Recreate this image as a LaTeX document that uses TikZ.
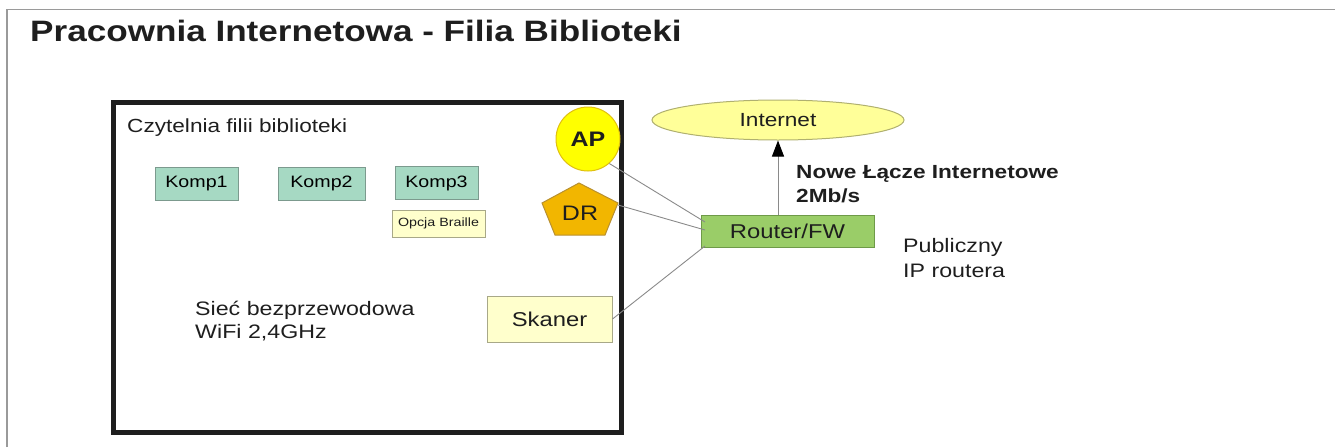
\documentclass[tikz,border=0pt]{standalone}
\usepackage{fontspec}
\setmainfont{Liberation Sans}[FakeStretch=1.19]
\usetikzlibrary{arrows.meta,shapes.geometric}
\definecolor{txt}{HTML}{1E1E1E}
\definecolor{frame}{HTML}{9A9A9A}
\definecolor{kompfill}{HTML}{A6D9C3}
\definecolor{kompline}{HTML}{7C9A8E}
\definecolor{paleyel}{HTML}{FFFFCC}
\definecolor{palelin}{HTML}{A8A888}
\definecolor{apfill}{HTML}{FFFF00}
\definecolor{apline}{HTML}{E0C010}
\definecolor{drfill}{HTML}{F2B600}
\definecolor{drline}{HTML}{B89030}
\definecolor{inetfill}{HTML}{FFFF99}
\definecolor{inetline}{HTML}{B0B070}
\definecolor{rfill}{HTML}{9ACD68}
\definecolor{rline}{HTML}{6E9A48}
\definecolor{conn}{HTML}{8A8A8A}
\tikzset{
  fs/.style={font=\fontsize{#1}{#1}\selectfont},
  kompbox/.style={draw=kompline, fill=kompfill, line width=1pt, minimum height=33, inner sep=0pt, text=black, font=\fontsize{16.5}{16.5}\selectfont},
  yelbox/.style={draw=palelin, fill=paleyel, line width=1pt, inner sep=0pt, text=txt},
  conline/.style={draw=conn, line width=0.9pt},
  plain/.style={text=txt, inner sep=0pt, anchor=base west, align=left},
}
\begin{document}
\begin{tikzpicture}[x=1pt,y=-1pt]
\useasboundingbox (0,0) rectangle (1335,447);
% outer frame
\draw[frame, line width=1.6pt] (7,447) -- (7,9.5) -- (1335,9.5);
% title
\node[plain, font=\bfseries\fontsize{29.5}{29.5}\selectfont] (title) at (30,41.5) {Pracownia Internetowa - Filia Biblioteki};
% reading room
\draw[line width=5pt, draw=txt] (113,102) rectangle (621,432);
\node[plain, fs=19] (room) at (127,132) {Czytelnia filii biblioteki};
\node[kompbox, minimum width=83] (k1) at (196.5,183.5) {Komp1};
\node[kompbox, minimum width=87] (k2) at (321.5,183.5) {Komp2};
\node[kompbox, minimum width=83] (k3) at (436.5,183) {Komp3};
\node[yelbox, minimum width=93, minimum height=27, fs=12] (braille) at (438.5,223.5) {Opcja Braille};
\node[plain, fs=19.5] (wifi) at (195,338) {Sieć bezprzewodowa\\[3pt]WiFi 2,4GHz};
\node[yelbox, minimum width=125, minimum height=46, fs=20] (skaner) at (549.5,319) {Skaner};
% AP
\node[circle, draw=apline, fill=apfill, line width=1pt, minimum size=64, inner sep=0pt, text=txt, font=\bfseries\fontsize{21}{21}\selectfont] (ap) at (588,139) {AP};
% DR pentagon
\draw[draw=drline, fill=drfill, line width=1pt] (579,183) -- (618,203) -- (605,235) -- (555,235) -- (542,203) -- cycle;
\node[text=txt, fs=21, inner sep=0pt] (dr) at (580,213) {DR};
\coordinate (drR) at (618,205);
% Internet
\node[ellipse, draw=inetline, fill=inetfill, line width=1pt, minimum width=252, minimum height=40, inner sep=0pt, text=txt, fs=19] (inet) at (778,120) {Internet};
% Router
\node[draw=rline, fill=rfill, line width=1pt, minimum width=173, minimum height=32, inner sep=0pt, text=txt, fs=20] (router) at (787.5,231) {Router/FW};
\coordinate (rIn1) at (705,222);
\coordinate (rIn2) at (705,230);
\coordinate (rIn3) at (705,246);
\coordinate (rUp) at (778,215);
% connectors
\draw[conline] (ap.-49) -- (rIn1);
\draw[conline] (drR) -- (rIn2);
\draw[conline] (skaner.east) -- (rIn3);
\draw[draw=conn, line width=1pt, -{Triangle[width=12pt,length=16pt,fill=black,color=black]}] (rUp) -- (inet.south);
% labels
\node[plain, font=\bfseries\fontsize{19}{19}\selectfont] (link) at (796,202) {Nowe Łącze Internetowe\\[5pt]2Mb/s};
\node[plain, fs=19.5] (pub) at (903,277) {Publiczny\\[5pt]IP routera};
\end{tikzpicture}
\end{document}
